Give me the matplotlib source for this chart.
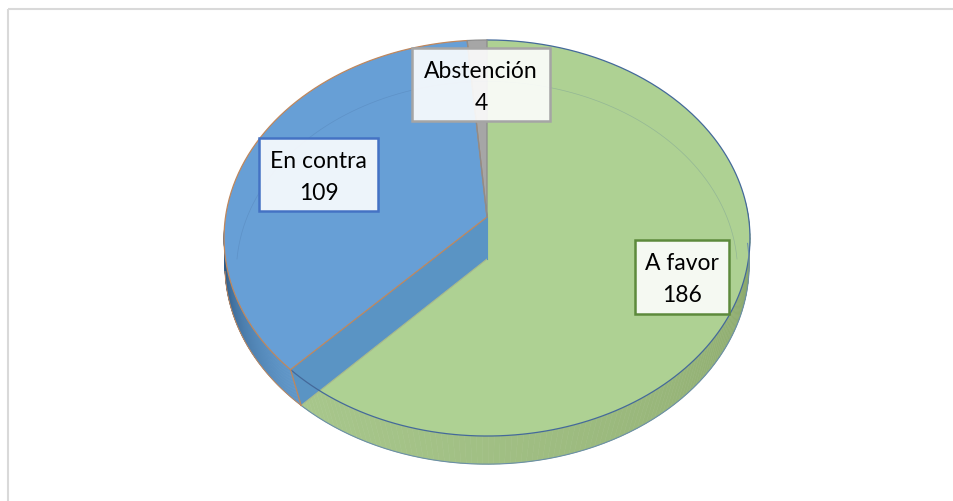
import numpy as np
import matplotlib
matplotlib.use("Agg")
import matplotlib.pyplot as plt

labels = ["A favor", "En contra", "Abstención"]
values = [186, 109, 4]

top_colors = ["#aed193", "#679fd6", "#a6a6a6"]
edge_colors = ["#44699a", "#c0875c", "#8c8c8c"]
box_edges = ["#5d8a3c", "#4472c4", "#a5a5a5"]
box_rects = [(635, 241, 94, 74), (259, 139, 119, 73), (412, 49, 138, 73)]

plt.rcParams["font.family"] = ["Lato", "DejaVu Sans"]

# tilted disc: unit circle to pixels
CX = 487


def project(theta, apex, a, b, k):
    x_disc = np.cos(theta)
    y_disc = np.sin(theta)
    d = 1 + k * y_disc
    return CX + a * x_disc / d, apex - b * y_disc / d


def top_rim(theta):
    return project(theta, 218, 261.5, 195.8, 0.106)


def low_rim(theta):
    return project(theta, 260, 262, 199, 0.03)


def mix(c1, c2, t):
    c1 = np.array(matplotlib.colors.to_rgb(c1))
    c2 = np.array(matplotlib.colors.to_rgb(c2))
    return tuple(c1 + (c2 - c1) * t)


def wall(ax, t0, t1, colors, power):
    ts = np.linspace(t0, t1, 120)
    for i in range(len(ts) - 1):
        x0, y0 = top_rim(ts[i:i + 2])
        x1, y1 = low_rim(ts[i:i + 2])
        f = (i / (len(ts) - 2)) ** power
        col = mix(colors[0], colors[1], f)
        ax.fill([x0[0], x0[1], x1[1], x1[0]], [y0[0], y0[1], y1[1], y1[0]],
                color=col, lw=0.4, zorder=1)


# slice angles, clockwise from the top
fracs = np.array(values) / sum(values) * 2 * np.pi
ends = np.pi / 2 - np.cumsum(fracs)
starts = np.r_[np.pi / 2, ends[:-1]]

fig = plt.figure(figsize=(9.54, 5.02), dpi=100)
ax = fig.add_axes([0, 0, 1, 1])
ax.set_xlim(0, 954)
ax.set_ylim(502, 0)
ax.axis("off")

# frame, only top and left are in the crop
ax.plot([8, 954], [10, 10], color="#d9d9d9", lw=1.5, solid_capstyle="butt")
ax.plot([8, 8], [10, 502], color="#d9d9d9", lw=1.5, solid_capstyle="butt")

# side walls
wall(ax, starts[0] - 0.95 * np.pi / 2, ends[0], ["#7a9658", "#a8c78c"], 0.45)
wall(ax, ends[0], -np.pi * 0.98, ["#5f96c8", "#2f5a85"], 1.3)

# green top face
t = np.linspace(starts[0], ends[0], 300)
x, y = top_rim(t)
ax.fill(np.r_[CX, x], np.r_[218, y], color=top_colors[0], lw=0, zorder=2)

# cut wall of the blue slice, over the green top
xe, ye = top_rim(np.array([ends[0]]))
xl, yl = low_rim(np.array([ends[0]]))
ax.fill([CX, xe[0], xl[0], CX], [218, ye[0], yl[0], 260], color="#5a94c4",
        lw=0, zorder=3)
ax.plot([xe[0], xl[0]], [ye[0], yl[0]], color=edge_colors[1], lw=0.9, zorder=5)
ax.plot([xl[0], CX], [yl[0], 260], color="#a9b98c", lw=0.8, zorder=3)
ax.plot([CX, CX], [218, 260], color="#5a94c4", lw=0.8, zorder=3)

# rim lines
ax.plot(x, y, color=edge_colors[0], lw=0.9, zorder=4)
tl = np.linspace(starts[0] - 0.95 * np.pi / 2, ends[0], 200)
xb, yb = low_rim(tl)
ax.plot(xb, yb, color="#6b8fa8", lw=0.8, zorder=4)
tl = np.linspace(ends[0], -np.pi * 0.98, 100)
xb, yb = low_rim(tl)
ax.plot(xb, yb, color=edge_colors[1], lw=0.7, zorder=4)

# blue and grey top faces
for i in (1, 2):
    t = np.linspace(starts[i], ends[i], 200)
    x, y = top_rim(t)
    ax.fill(np.r_[CX, x], np.r_[218, y], color=top_colors[i], lw=0, zorder=5)
    ax.plot(np.r_[CX, x, CX], np.r_[218, y, 218], color=edge_colors[i], lw=0.9,
            zorder=6)

# faint far ring seen through the top
t = np.linspace(0, np.pi, 200)
xr, yr = project(t, 260, 250, 190, 0.07)
ax.plot(xr, yr, color="#44699a", lw=0.5, alpha=0.25, zorder=6)

# label boxes
for lab, val, ec, (bx, by, bw, bh) in zip(labels, values, box_edges, box_rects):
    ax.add_patch(plt.Rectangle((bx, by), bw, bh, fc=(1, 1, 1, 0.89), ec=ec, lw=1.8,
                               zorder=8))
    ax.text(bx + bw / 2, by + 23, lab, ha="center", va="center",
            fontsize=16.5, color="black", zorder=9)
    ax.text(bx + bw / 2, by + 55, str(val), ha="center", va="center",
            fontsize=16.5, color="black", zorder=9)

fig.savefig("out.png", dpi=100)
